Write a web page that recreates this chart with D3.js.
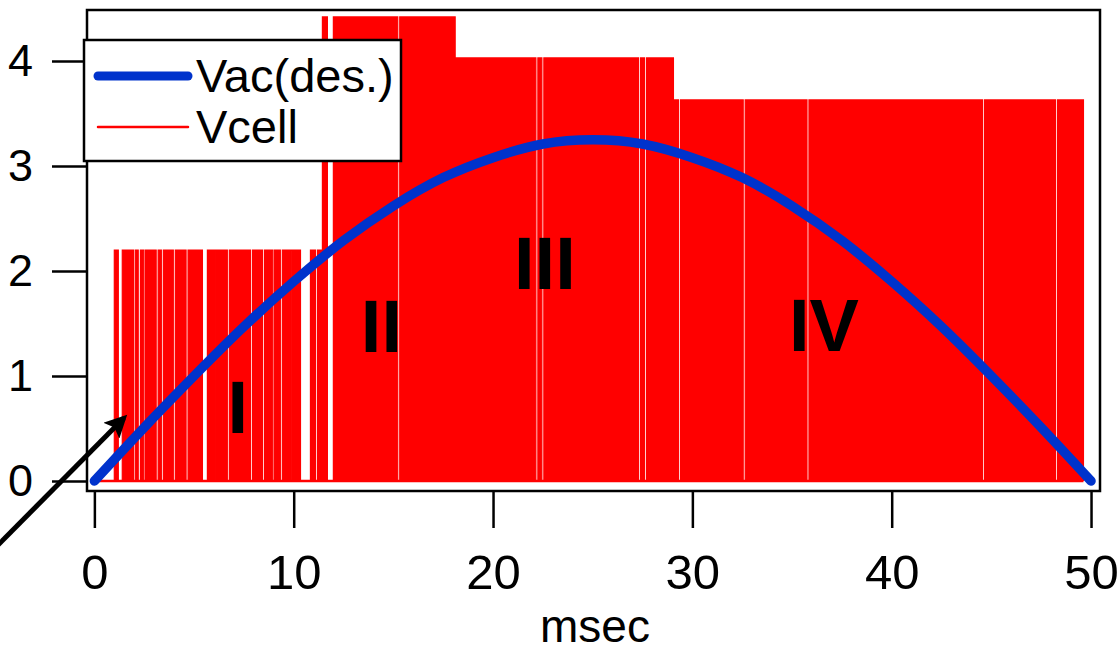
<!DOCTYPE html>
<html>
<head>
<meta charset="utf-8">
<script src="https://cdn.jsdelivr.net/npm/d3@7"></script>
<style>
  body { margin: 0; background: #ffffff; }
  svg { display: block; font-family: "Liberation Sans", Arial, sans-serif; }
</style>
</head>
<body>
<div id="viz"></div>
<script>
// tick values
var xTicks = [0, 10, 20, 30, 40, 50];
var yTicks = [0, 1, 2, 3, 4];

// desired ac voltage (blue), read every 2.5 msec
var vacTime  = [0, 2.5, 5, 7.5, 10, 12.5, 15, 17.5, 20, 22.5, 25, 27.5, 30, 32.5, 35, 37.5, 40, 42.5, 45, 47.5, 50];
var vacValue = [0, 0.51, 1.00, 1.47, 1.90, 2.29, 2.62, 2.89, 3.08, 3.21, 3.25, 3.21, 3.08, 2.89, 2.62, 2.29, 1.90, 1.47, 1.00, 0.51, 0];

// cell voltage pulses (red): start / end in msec, level in volts
var pulseStart = [1.00, 1.40, 2.05, 2.31, 2.56, 3.20, 3.46, 4.06, 4.70, 5.67, 6.07, 6.77, 7.28, 7.93, 8.53, 9.03, 9.43, 9.88, 10.84, 11.19,
                  11.44, 11.99, 15.32,
                  18.10, 22.25, 22.55, 27.40, 27.70,
                  29.05, 29.40, 32.65, 35.85, 44.65, 48.32];
var pulseEnd   = [1.20, 1.96, 2.20, 2.48, 3.10, 3.36, 3.96, 4.60, 5.42, 6.02, 6.67, 7.23, 7.83, 8.43, 8.95, 9.33, 9.83, 10.34, 11.09, 11.39,
                  11.69, 15.22, 18.10,
                  22.15, 22.45, 27.30, 27.60, 29.05,
                  29.30, 32.55, 35.75, 44.55, 48.22, 49.62];
var pulseLevel = [2.2, 2.2, 2.2, 2.2, 2.2, 2.2, 2.2, 2.2, 2.2, 2.2, 2.2, 2.2, 2.2, 2.2, 2.2, 2.2, 2.2, 2.2, 2.2, 2.2,
                  4.42, 4.42, 4.42,
                  4.03, 4.03, 4.03, 4.03, 4.03,
                  3.63, 3.63, 3.63, 3.63, 3.63, 3.63];

// region labels
var regionNames = ["I", "II", "III", "IV"];
var regionTime  = [7.2, 14.4, 22.6, 36.6];
var regionVolt  = [0.71, 1.48, 2.08, 1.49];

var legendNames = ["Vac(des.)", "Vcell"];

var width = 1120;
var height = 651;
var margin = ({top: 10, right: 20, bottom: 160, left: 87});

var svg = d3.select("#viz")
            .append("svg")
            .attr("width", width)
            .attr("height", height);

var xScale = d3.scaleLinear()
               .domain([-0.37, 50.45])
               .range([margin.left, width - margin.right]);

var yScale = d3.scaleLinear()
               .domain([-0.095, 4.486])
               .range([height - margin.bottom, margin.top]);

// red pulse train as a step line, closed along the baseline
var stepPts = [[0, 0]];
for (var i = 0; i < pulseStart.length; i++)
{
  stepPts.push([pulseStart[i], 0]);
  stepPts.push([pulseStart[i], pulseLevel[i]]);
  stepPts.push([pulseEnd[i], pulseLevel[i]]);
  stepPts.push([pulseEnd[i], 0]);
}
var stepLine = d3.line()
                 .x(function(d) { return xScale(d[0]); })
                 .y(function(d) { return yScale(d[1]); });

svg.append("line")
   .attr("x1", xScale(0))
   .attr("x2", xScale(pulseEnd[pulseEnd.length - 1]))
   .attr("y1", yScale(0))
   .attr("y2", yScale(0))
   .attr("stroke", "#ff0000")
   .attr("stroke-width", 2.5);

svg.append("path")
   .datum(stepPts)
   .attr("d", stepLine)
   .attr("fill", "#ff0000")
   .attr("stroke", "#ff0000")
   .attr("stroke-width", 1.2);

// blue desired voltage
var vacPts = vacTime.map(function(t, i) { return [t, vacValue[i]]; });
svg.append("path")
   .datum(vacPts)
   .attr("d", d3.line()
                .x(function(d) { return xScale(d[0]); })
                .y(function(d) { return yScale(d[1]); })
                .curve(d3.curveNatural))
   .attr("fill", "none")
   .attr("stroke", "#0033cc")
   .attr("stroke-width", 9.5)
   .attr("stroke-linecap", "round");

// frame
svg.append("rect")
   .attr("x", xScale.range()[0])
   .attr("y", yScale.range()[1])
   .attr("width", xScale.range()[1] - xScale.range()[0])
   .attr("height", yScale.range()[0] - yScale.range()[1])
   .attr("fill", "none")
   .attr("stroke", "#000")
   .attr("stroke-width", 2.5);

// y axis
var yAxis = svg.append("g")
   .attr("transform", "translate(" + margin.left + ",0)")
   .call(d3.axisLeft(yScale).tickValues(yTicks).tickSize(35).tickSizeOuter(0).tickPadding(19)
           .tickFormat(d3.format("d")));
yAxis.select(".domain").remove();
yAxis.selectAll("line").attr("stroke", "#000").attr("stroke-width", 2.5);
yAxis.selectAll("text").attr("fill", "#000").style("font-size", "45px").style("font-family", "'Liberation Sans', Arial, sans-serif");

// x axis
var xAxis = svg.append("g")
   .attr("transform", "translate(0," + (height - margin.bottom) + ")")
   .call(d3.axisBottom(xScale).tickValues(xTicks).tickSize(37).tickSizeOuter(0).tickPadding(26)
           .tickFormat(d3.format("d")));
xAxis.select(".domain").remove();
xAxis.selectAll("line").attr("stroke", "#000").attr("stroke-width", 2.5);
xAxis.selectAll("text").attr("fill", "#000").style("font-size", "49px").style("font-family", "'Liberation Sans', Arial, sans-serif");

svg.append("text")
   .attr("x", 595)
   .attr("y", 642)
   .attr("text-anchor", "middle")
   .style("font-size", "46px")
   .text("msec");

// region labels
svg.selectAll(".region")
   .data(regionNames)
   .enter()
   .append("text")
   .attr("class", "region")
   .attr("x", function(d, i) { return xScale(regionTime[i]); })
   .attr("y", function(d, i) { return yScale(regionVolt[i]); })
   .attr("dy", "0.36em")
   .attr("text-anchor", "middle")
   .style("font-size", "74px")
   .style("font-weight", "bold")
   .text(function(d) { return d; });

// arrow pointing at the start of the curve
svg.append("defs").append("marker")
   .attr("id", "head")
   .attr("viewBox", "0 0 10 10")
   .attr("refX", 8)
   .attr("refY", 5)
   .attr("markerWidth", 5.5)
   .attr("markerHeight", 4.5)
   .attr("markerUnits", "strokeWidth")
   .attr("orient", "auto")
   .append("path")
   .attr("d", "M0,0 L10,5 L0,10 L2,5 z")
   .attr("fill", "#000");

svg.append("line")
   .attr("x1", -2)
   .attr("y1", 545)
   .attr("x2", 124)
   .attr("y2", 418)
   .attr("stroke", "#000")
   .attr("stroke-width", 5)
   .attr("marker-end", "url(#head)");

// legend
var legend = svg.append("g");
legend.append("rect")
      .attr("x", 84)
      .attr("y", 40)
      .attr("width", 317)
      .attr("height", 121)
      .attr("fill", "#fff")
      .attr("stroke", "#000")
      .attr("stroke-width", 2.5);

var legendColors = ["#0033cc", "#ff0000"];
var legendWidths = [9, 2.5];
legendNames.forEach(function(name, i)
{
  var ly = 76 + i * 51;
  legend.append("line")
        .attr("x1", 98)
        .attr("x2", 188)
        .attr("y1", ly)
        .attr("y2", ly)
        .attr("stroke", legendColors[i])
        .attr("stroke-width", legendWidths[i])
        .attr("stroke-linecap", "round");
  legend.append("text")
        .attr("x", 196)
        .attr("y", ly + 16)
        .style("font-size", "47px")
        .text(name);
});
</script>
</body>
</html>
